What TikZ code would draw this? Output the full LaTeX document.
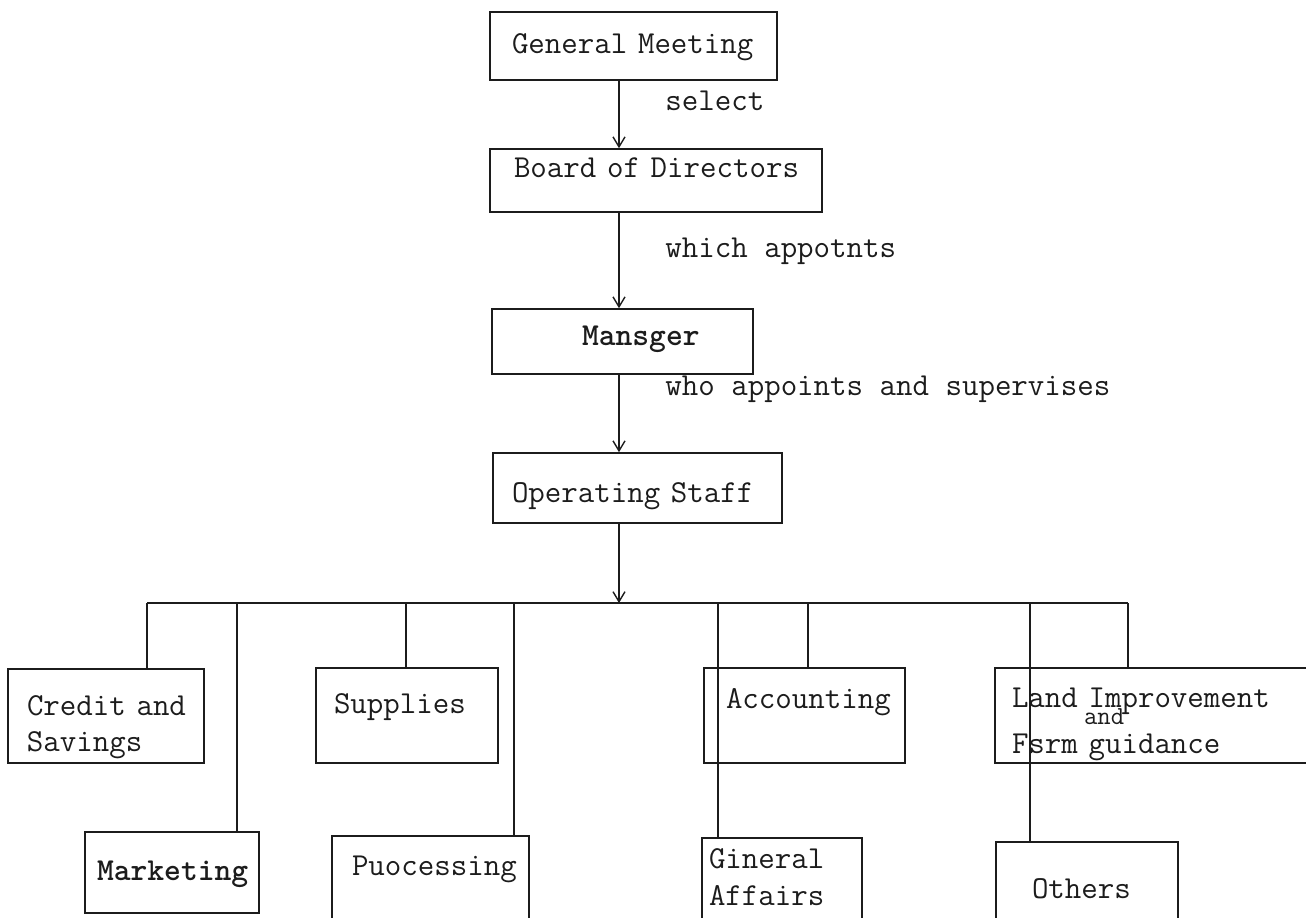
\documentclass[tikz,border=0pt]{standalone}
\usepackage{fontspec}
\usepackage{tikz}
\usetikzlibrary{arrows.meta,positioning}
\definecolor{ink}{HTML}{1C1C1C}

\begin{document}
\begin{tikzpicture}[x=0.5pt,y=-0.5pt,
  box/.style={draw=ink,line width=0.8pt,rectangle,inner sep=0pt,align=left,
              font=\ttfamily\fontsize{16}{18}\selectfont,text=ink},
  boxsize/.style 2 args={minimum width=#1,text width=#1,minimum height=#2},
  lpad/.style={execute at begin node={\leftskip=#1}},
  note/.style={anchor=base west,inner sep=0pt,text=ink,
               font=\ttfamily\fontsize{16}{18}\selectfont},
  arrow/.style={-{Straight Barb[length=5pt,width=6pt]},line width=0.7pt,draw=ink},
  link/.style={line width=0.8pt,draw=ink}
]
\useasboundingbox (0,0) rectangle (1306,917);

\node[box,boxsize={143.5pt}{34pt},lpad=11pt,text height=14pt,text depth=7pt] (meeting) at (633.5,46) {General Meeting};
\node[box,boxsize={166pt}{31.5pt},lpad=12pt,text height=10pt,text depth=13.5pt] (board) at (656,180.5) {Board of Directors};
\node[box,boxsize={130.5pt}{32.5pt},lpad=45pt,text height=12pt,text depth=8.5pt,font=\ttfamily\bfseries\fontsize{16}{18}\selectfont] (manager) at (622.5,341.5) {Mansger};
\node[box,boxsize={144.5pt}{35pt},lpad=9.5pt,text height=20pt,text depth=6pt] (staff) at (637.5,488) {Operating Staff};

\node[box,boxsize={98pt}{47pt},lpad=9.5pt,text height=12pt,text depth=13pt] (credit) at (106,716) {Credit and\\Savings};
\node[box,boxsize={87pt}{40.5pt},lpad=6pt,text height=14pt,text depth=6.5pt,font=\ttfamily\bfseries\fontsize{16}{18}\selectfont] (marketing) at (172,872.5) {Marketing};
\node[box,boxsize={91pt}{47.5pt},lpad=9pt,text height=12pt,text depth=14.5pt] (supplies) at (407,715.5) {Supplies};
\node[box,boxsize={98.5pt}{47pt},lpad=10pt,text height=10pt,text depth=18pt] (processing) at (430.5,883) {Puocessing};
\node[box,boxsize={100.5pt}{47.5pt},lpad=11pt,text height=10pt,text depth=17.5pt] (accounting) at (804.5,715.5) {Accounting};
\node[box,boxsize={80pt}{46pt},lpad=3.5pt,text height=8pt,text depth=24pt] (affairs) at (782,884) {Gineral\\[0.5pt]Affairs};
\node[box,boxsize={167.5pt}{47.5pt},lpad=8.5pt,text height=10pt,text depth=18.5pt] (land) at (1162.5,715.5) {Land Improvement\\[-9.5pt]\hspace*{36pt}{\fontsize{13}{13}\selectfont and}\\[-3.5pt]Fsrm guidance};
\node[box,boxsize={91pt}{44pt},lpad=18pt,text height=18pt,text depth=6pt] (others) at (1087,886) {Others};

\node[note] (select) at (665,110) {select};
\node[note] (appoints) at (665,257) {which appotnts};
\node[note] (supervises) at (665,395) {who appoints and supervises};

\coordinate (hub) at (619,603);
\draw[arrow] (meeting.south -| hub) -- (board.north -| hub);
\draw[arrow] (board.south -| hub) -- (manager.north -| hub);
\draw[arrow] (manager.south -| hub) -- (staff.north -| hub);
\draw[arrow] (staff.south -| hub) -- (hub);

\foreach \x/\n in {147/credit,237/marketing,406/supplies,514/processing,718/affairs,808/accounting,1030/others,1128/land}
  \coordinate (d\n) at (\x,603);
\draw[link] (dcredit) -- (dland);
\foreach \n in {credit,marketing,supplies,processing,affairs,accounting,others,land}
  \draw[link] (d\n) -- (d\n |- \n.north);
\end{tikzpicture}
\end{document}
